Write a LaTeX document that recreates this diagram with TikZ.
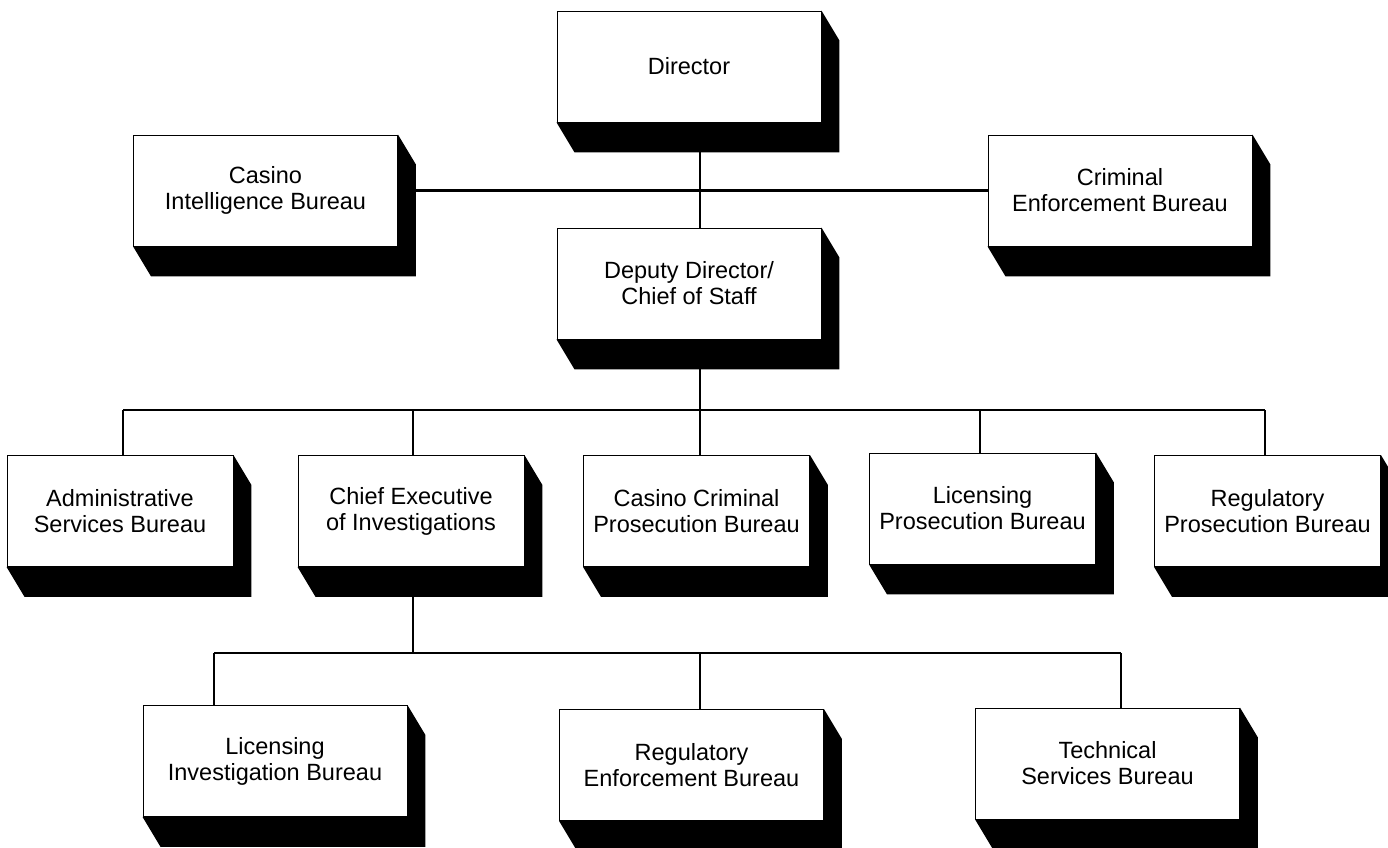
\documentclass[tikz,border=0pt]{standalone}
\usepackage{fontspec}
\setmainfont{Liberation Sans}
\usetikzlibrary{calc}

\tikzset{
  orgbox/.style={draw=black, line width=0.9pt, fill=white, inner sep=0pt,
    align=center, minimum height=111pt, font=\fontsize{23.5}{26}\selectfont},
  widebox/.style={orgbox, minimum width=264pt},
  slimbox/.style={orgbox, minimum width=226pt},
  link/.style={line width=2.4pt},
  extrude/.style={fill=black}
}

% solid block extruded down and to the right of a box
\newcommand{\extrusion}[1]{%
  \fill[extrude] (#1.south west) -- ++(18,30) -- ($(#1.south east)+(18,30)$)
    -- ($(#1.north east)+(18,30)$) -- (#1.north east) -- (#1.south east) -- cycle;}

\begin{document}
\begin{tikzpicture}[x=1pt,y=-1pt]
\useasboundingbox (0,0) rectangle (1388,847);

% executive level
\node[widebox] (dir) at (689,66.5) {Director};
\node[widebox] (cib) at (265.5,190.5) {Casino\\Intelligence Bureau};
\node[widebox] (ceb) at (1120,190.5) {Criminal\\Enforcement Bureau};
\node[widebox] (dep) at (689,283.5) {Deputy Director/\\Chief of Staff};

% bureaus reporting to the deputy director
\node[slimbox] (asb) at (120,511) {Administrative\\Services Bureau};
\node[slimbox] (cei) at (411,511) {Chief Executive\\of Investigations};
\node[slimbox] (ccp) at (696.5,511) {Casino Criminal\\Prosecution Bureau};
\node[slimbox] (lpb) at (982.5,508.5) {Licensing\\Prosecution Bureau};
\node[slimbox] (rpb) at (1267.5,511) {Regulatory\\Prosecution Bureau};

% investigative bureaus
\node[widebox] (lib) at (275,761) {Licensing\\Investigation Bureau};
\node[widebox] (reb) at (691.5,765) {Regulatory\\Enforcement Bureau};
\node[widebox] (tsb) at (1107.5,763.5) {Technical\\Services Bureau};

% junction points of the connector buses
\coordinate (spine) at (700,0);
\coordinate (busA) at (123,410);
\coordinate (busB) at (413,410);
\coordinate (busD) at (980,410);
\coordinate (busE) at (1265,410);
\coordinate (subA) at (214,653);
\coordinate (subB) at (700,653);
\coordinate (subC) at (1121,653);

% connectors
\draw[link] (dir.south -| spine) -- (dep.north -| spine);
\draw[link] (cib.east) -- (ceb.west);
\draw[link] (dep.south -| spine) -- (spine |- busA);
\draw[link] (busA) -- (busE);
\draw[link] (busA) -- (busA |- asb.north);
\draw[link] (busB) -- (busB |- cei.north);
\draw[link] (spine |- busA) -- (spine |- ccp.north);
\draw[link] (busD) -- (busD |- lpb.north);
\draw[link] (busE) -- (busE |- rpb.north);
\draw[link] (busB |- cei.south) -- (busB |- subA);
\draw[link] (subA) -- (subC);
\draw[link] (subA) -- (subA |- lib.north);
\draw[link] (subB) -- (subB |- reb.north);
\draw[link] (subC) -- (subC |- tsb.north);

% extruded blocks behind every box
\foreach \b in {dir,cib,ceb,dep,asb,cei,ccp,lpb,rpb,lib,reb,tsb}{\extrusion{\b}}
\end{tikzpicture}
\end{document}
